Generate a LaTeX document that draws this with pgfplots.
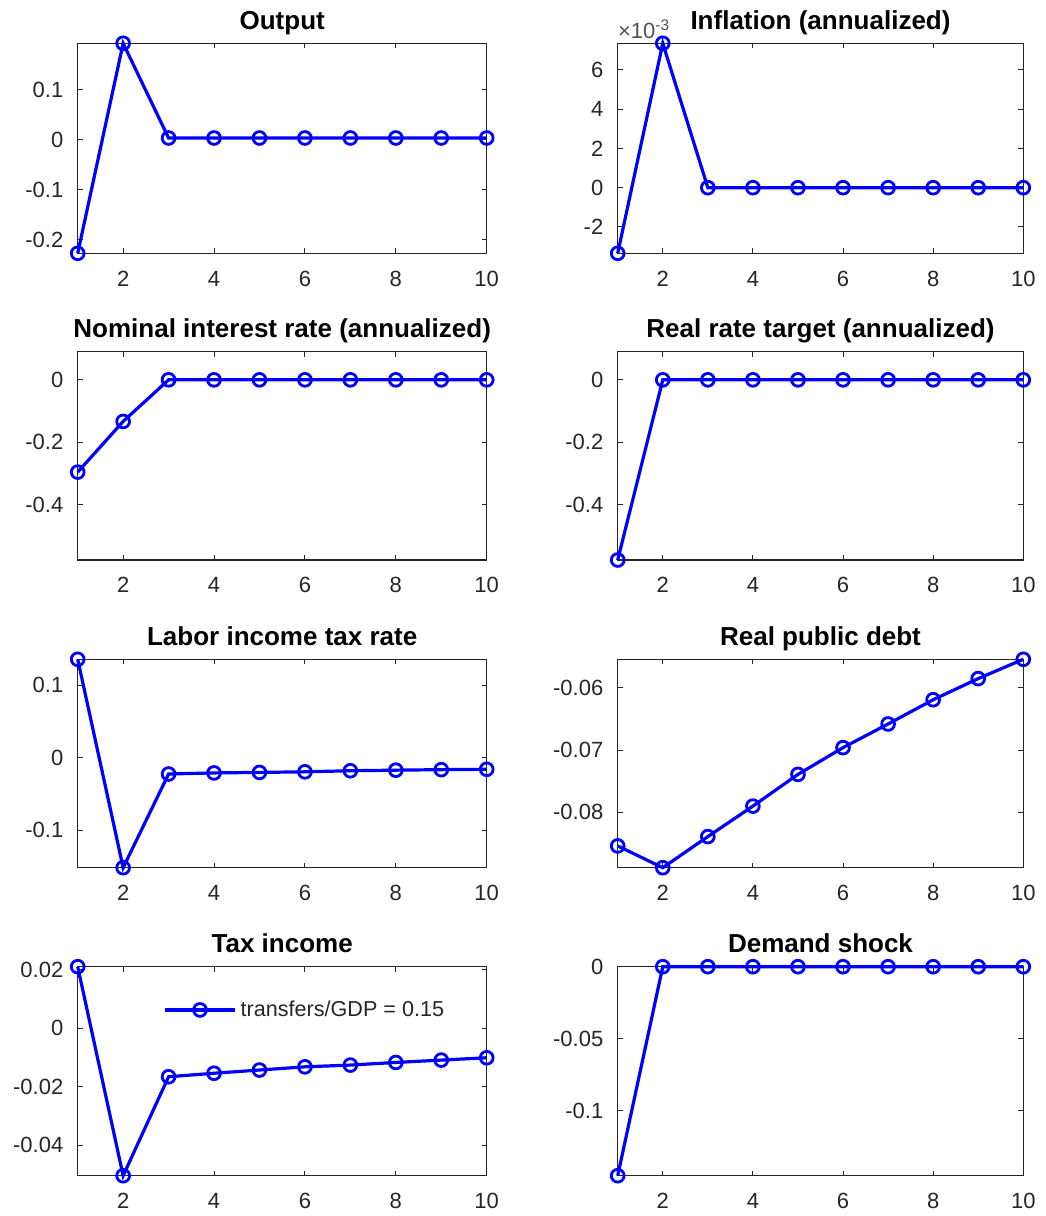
\documentclass[border=0pt]{standalone}
\usepackage{pgfplots}
\pgfplotsset{compat=1.18}
\usepackage{fontspec}
\setmainfont{Liberation Sans}
\definecolor{axgray}{rgb}{0.15,0.15,0.15}
\definecolor{mblue}{rgb}{0,0,1}
\pgfplotsset{
  irf/.style={
    scale only axis,
    xmin=1, xmax=10,
    xtick={2,4,6,8,10},
    scaled y ticks=false,
    scaled x ticks=false,
    tick align=inside,
    tick pos=both,
    major tick length=2.5pt,
    axis line style={axgray, line width=0.6pt},
    every tick/.style={axgray, line width=0.5pt},
    ticklabel style={font=\fontsize{11}{13}\selectfont, text=axgray},
    xticklabel style={anchor=base, yshift=-16.5pt},
    yticklabel style={anchor=east, inner sep=0pt, xshift=-7pt},
    /pgf/number format/assume math mode=true,
    title style={at={(0.5,1)}, anchor=base, yshift=1pt, inner sep=0pt, font=\bfseries\fontsize{13}{15}\selectfont},
    clip=false,
  },
  irfline/.style={mblue, line width=1.6pt, mark=o, mark size=3.2pt, mark options={line width=1.4pt, solid}},
}
\begin{document}
\begin{tikzpicture}
\path[use as bounding box] (0,0) rectangle (522.5pt,608pt);

% Row 1 left: Output
\begin{axis}[irf, at={(38.85pt,481.35pt)}, anchor=south west, width=204.5pt, height=105pt,
  ymin=-0.2266, ymax=0.1934, ytick={-0.2,-0.1,0,0.1}, yticklabels={-0.2,-0.1,0,0.1},
  title={Output}]
\addplot[irfline] coordinates {(1,-0.2266) (2,0.1934) (3,0.004) (4,0.004) (5,0.004) (6,0.004) (7,0.004) (8,0.004) (9,0.004) (10,0.004)};
\end{axis}

% Row 1 right: Inflation
\begin{axis}[irf, at={(308.85pt,481.35pt)}, anchor=south west, width=202.8pt, height=105pt,
  ymin=-0.00334, ymax=0.00735, ytick={-0.002,0,0.002,0.004,0.006}, yticklabels={-2,0,2,4,6},
  title={Inflation (annualized)}]
\addplot[irfline] coordinates {(1,-0.00334) (2,0.00735) (3,0) (4,0) (5,0) (6,0) (7,0) (8,0) (9,0) (10,0)};
\node[anchor=south west, inner sep=0pt, text=axgray!80, font=\fontsize{11}{13}\selectfont] at (rel axis cs:0,1) [yshift=2pt] {×10\textsuperscript{-3}};
\end{axis}

% Row 2 left: Nominal interest rate
\begin{axis}[irf, at={(38.85pt,328pt)}, anchor=south west, width=204.5pt, height=104.15pt,
  ymin=-0.576, ymax=0.09, ytick={-0.4,-0.2,0}, yticklabels={-0.4,-0.2,0},
  title={Nominal interest rate (annualized)}]
\addplot[irfline] coordinates {(1,-0.295) (2,-0.133) (3,0) (4,0) (5,0) (6,0) (7,0) (8,0) (9,0) (10,0)};
\end{axis}

% Row 2 right: Real rate target
\begin{axis}[irf, at={(308.85pt,328pt)}, anchor=south west, width=202.8pt, height=104.15pt,
  ymin=-0.576, ymax=0.09, ytick={-0.4,-0.2,0}, yticklabels={-0.4,-0.2,0},
  title={Real rate target (annualized)}]
\addplot[irfline] coordinates {(1,-0.576) (2,0) (3,0) (4,0) (5,0) (6,0) (7,0) (8,0) (9,0) (10,0)};
\end{axis}

% Row 3 left: Labor income tax rate
\begin{axis}[irf, at={(38.85pt,174.15pt)}, anchor=south west, width=204.5pt, height=104.2pt,
  ymin=-0.1517, ymax=0.1357, ytick={-0.1,0,0.1}, yticklabels={-0.1,0,0.1},
  title={Labor income tax rate}]
\addplot[irfline] coordinates {(1,0.1357) (2,-0.1517) (3,-0.0225) (4,-0.021) (5,-0.0203) (6,-0.0195) (7,-0.018) (8,-0.0172) (9,-0.0165) (10,-0.016)};
\end{axis}

% Row 3 right: Real public debt
\begin{axis}[irf, at={(308.85pt,174.15pt)}, anchor=south west, width=202.8pt, height=104.2pt,
  ymin=-0.0889, ymax=-0.0554, ytick={-0.08,-0.07,-0.06}, yticklabels={-0.08,-0.07,-0.06},
  title={Real public debt}]
\addplot[irfline] coordinates {(1,-0.0854) (2,-0.0889) (3,-0.0839) (4,-0.0790) (5,-0.0739) (6,-0.0696) (7,-0.0658) (8,-0.0619) (9,-0.0585) (10,-0.0554)};
\end{axis}

% Row 4 left: Tax income
\begin{axis}[irf, at={(38.85pt,20.15pt)}, anchor=south west, width=204.5pt, height=104.5pt,
  ymin=-0.0505, ymax=0.0211, ytick={-0.04,-0.02,0,0.02}, yticklabels={-0.04,-0.02,0,0.02},
  title={Tax income},
  legend style={draw=none, fill=none, at={(0.2086,0.793)}, anchor=west, inner sep=0pt,
    font=\fontsize{10.8}{12}\selectfont, text=axgray},
  legend cell align=left,
  legend image code/.code={\draw[mark repeat=2, mark phase=2, #1] plot coordinates {(0pt,0pt) (17.5pt,0pt) (35pt,0pt)};}]
\addplot[irfline] coordinates {(1,0.0211) (2,-0.0505) (3,-0.0166) (4,-0.0154) (5,-0.0143) (6,-0.0132) (7,-0.0126) (8,-0.0117) (9,-0.0109) (10,-0.0101)};
\addlegendentry{transfers/GDP = 0.15}
\end{axis}

% Row 4 right: Demand shock
\begin{axis}[irf, at={(308.85pt,20.15pt)}, anchor=south west, width=202.8pt, height=104.5pt,
  ymin=-0.1449, ymax=0, ytick={-0.1,-0.05,0}, yticklabels={-0.1,-0.05,0},
  title={Demand shock}]
\addplot[irfline] coordinates {(1,-0.1449) (2,0) (3,0) (4,0) (5,0) (6,0) (7,0) (8,0) (9,0) (10,0)};
\end{axis}
\end{tikzpicture}
\end{document}
